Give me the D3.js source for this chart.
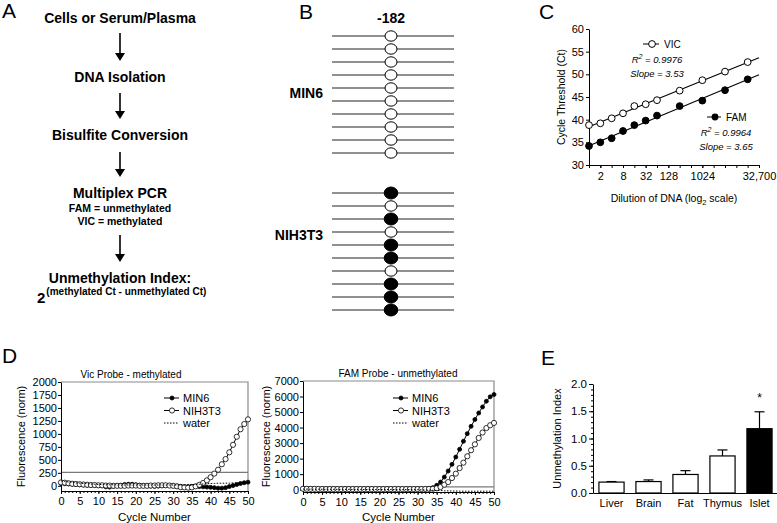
<!DOCTYPE html>
<html>
<head>
<meta charset="utf-8">
<script src="https://cdn.jsdelivr.net/npm/d3@7"></script>
<style>
body { margin: 0; background: #fff; }
svg { font-family: "Liberation Sans", Arial, Helvetica, sans-serif; }
</style>
</head>
<body>
<svg id="fig" width="777" height="523"></svg>
<script>
// ---- data ----
const flowSteps = ['Cells or Serum/Plasma', 'DNA Isolation', 'Bisulfite Conversion', 'Multiplex PCR', 'Unmethylation Index:'];
const flowNotes = ['FAM = unmethylated', 'VIC = methylated'];

const min6Sites = [0, 0, 0, 0, 0, 0, 0, 0, 0, 0];
const nih3t3Sites = [1, 0, 1, 0, 1, 1, 0, 1, 1, 1];

const dilutions = [1, 2, 4, 8, 16, 32, 64, 256, 1024, 4096, 16384];
const vicCt = [38.8, 39.2, 40.3, 41.4, 43.0, 43.4, 44.3, 46.4, 48.7, 50.6, 52.7];
const famCt = [34.2, 35.0, 35.9, 37.5, 38.8, 39.8, 40.9, 43.0, 44.2, 46.5, 48.9];
const dilutionTicks = [2, 8, 32, 128, 1024, 32768];
const dilutionTickLabels = ['2', '8', '32', '128', '1024', '32,700'];

const cycles = d3.range(0, 51);
const vicMin6 = [45,40,35,30,25,20,15,10,10,5, 5,0,-20,-25,-10,0,10,25,30,30, 20,10,5,0,-5,-10,-5,0,5,5, 0,-5,-10,-15,-15,-10,-10,-15,-20,-25, -30,-35,-45,-45,-35,-15,5,25,45,60, 70];
const vicNih = [65,60,50,40,35,30,25,20,15,15, 10,10,5,5,0,0,0,0,5,5, 5,0,0,0,5,5,10,10,10,5, 0,-10,-25,-30,-35,-30,-10,20,55,105, 165,235,310,415,515,645,790,945,1090,1190, 1280];
const vicWater = [95,85,75,65,55,50,45,40,35,30, 25,25,20,20,20,15,15,15,15,15, 15,15,15,15,15,15,15,15,15,15, 15,15,15,15,15,20,25,30,35,40, 45,45,50,50,50,50,55,55,55,55, 55];
const famMin6 = [60,55,50,50,45,45,40,40,40,40, 40,40,40,40,40,40,40,40,40,40, 40,40,40,40,40,40,40,40,40,40, 45,50,60,80,130,280,490,810,1200,1630, 2100,2600,3120,3610,4080,4520,4940,5330,5700,5980, 6130];
const famNih = [60,55,50,50,45,45,40,40,40,40, 40,40,40,40,40,40,40,40,40,40, 40,40,40,40,40,40,40,40,40,40, 40,40,45,50,60,90,170,320,490,750, 1030,1390,1740,2150,2540,2920,3330,3680,3970,4150, 4300];
const famWater = [40,35,30,30,30,25,25,25,20,20, 20,20,20,15,15,15,15,15,10,10, 10,10,10,10,5,5,5,5,0,0, 0,-10,-20,-30,-40,-50,-60,-70,-80,-85, -90,-95,-100,-100,-100,-100,-100,-100,-100,-100, -100];
const vicThreshold = 260;
const famThreshold = 180;

const tissues = ['Liver', 'Brain', 'Fat', 'Thymus', 'Islet'];
const unmethIndex = [0.20, 0.21, 0.34, 0.68, 1.18];
const unmethErr = [0.01, 0.03, 0.07, 0.11, 0.31];

// ---- helpers ----
const svg = d3.select('#fig');

function styleAxis (sel, size) {
	sel.selectAll('text').attr('font-size', size).attr('fill', '#000');
	sel.selectAll('line, path').attr('stroke', '#000').attr('stroke-width', 1);
}

function panelLetter (x, y, letter) {
	svg.append('text').attr('x', x).attr('y', y)
		.attr('font-size', 21).text(letter);
}

// ---- A: flow chart ----
panelLetter(2, 18, 'A');
const stepY = [23, 82, 140, 198, 283];
const arrowY = [[33, 61], [93, 119], [152, 177], [235, 262]];
const gA = svg.append('g');
gA.selectAll('text.step').data(flowSteps).join('text')
	.attr('class', 'step')
	.attr('x', 120).attr('y', (d, i) => stepY[i])
	.attr('text-anchor', 'middle').attr('font-size', 14).attr('font-weight', 'bold')
	.text(d => d);
gA.selectAll('text.note').data(flowNotes).join('text')
	.attr('class', 'note')
	.attr('x', 120).attr('y', (d, i) => 212 + i * 13)
	.attr('text-anchor', 'middle').attr('font-size', 10.5).attr('font-weight', 'bold')
	.text(d => d);
const arrows = gA.selectAll('g.arrow').data(arrowY).join('g').attr('class', 'arrow');
arrows.append('line')
	.attr('x1', 120).attr('x2', 120)
	.attr('y1', d => d[0]).attr('y2', d => d[1] - 6)
	.attr('stroke', '#000').attr('stroke-width', 1.6);
arrows.append('path')
	.attr('d', d => `M115,${d[1] - 8}L125,${d[1] - 8}L120,${d[1]}Z`)
	.attr('fill', '#000');
const formula = gA.append('text')
	.attr('x', 37).attr('y', 303)
	.attr('font-weight', 'bold');
formula.append('tspan').attr('font-size', 15).text('2');
formula.append('tspan').attr('font-size', 10).attr('dy', -8).attr('dx', 1)
	.text('(methylated Ct - unmethylated Ct)');

// ---- B: lollipop methylation ----
panelLetter(299, 19, 'B');
const gB = svg.append('g');
gB.append('text').attr('x', 391).attr('y', 23)
	.attr('text-anchor', 'middle').attr('font-size', 14).attr('font-weight', 'bold').text('-182');

function drawClones (sites, y0, label, labelY) {
	const y = d3.scaleLinear().domain([0, sites.length - 1]).range([y0, y0 + 13 * (sites.length - 1)]);
	const g = gB.append('g');
	g.selectAll('line').data(sites).join('line')
		.attr('x1', 332).attr('x2', 454)
		.attr('y1', (d, i) => y(i)).attr('y2', (d, i) => y(i))
		.attr('stroke', '#222').attr('stroke-width', 1.1);
	g.selectAll('ellipse').data(sites).join('ellipse')
		.attr('cx', 391).attr('cy', (d, i) => y(i))
		.attr('rx', d => d ? 6.8 : 6).attr('ry', d => d ? 6 : 5.2)
		.attr('fill', d => d ? '#000' : '#fff')
		.attr('stroke', '#000').attr('stroke-width', 1);
	g.append('text').attr('x', 323).attr('y', labelY)
		.attr('text-anchor', 'end').attr('font-size', 14).attr('font-weight', 'bold').text(label);
}
drawClones(min6Sites, 36, 'MIN6', 98);
drawClones(nih3t3Sites, 193, 'NIH3T3', 240);

// ---- C: standard curve ----
panelLetter(539, 19, 'C');
const gC = svg.append('g');
const xC = d3.scaleLog().base(2).domain([1, 32768]).range([589, 759]);
const yC = d3.scaleLinear().domain([30, 60]).range([165, 29]);

gC.append('g').attr('transform', 'translate(589,0)')
	.call(d3.axisLeft(yC).tickValues(d3.range(30, 61, 5)).tickSize(3).tickPadding(2).tickSizeOuter(0))
	.call(s => styleAxis(s, 11));
gC.append('g').attr('transform', 'translate(0,165)')
	.call(d3.axisBottom(xC).tickValues(d3.range(0, 16).map(k => 2 ** k)).tickSize(3).tickFormat('').tickSizeOuter(0))
	.call(s => styleAxis(s, 11));
gC.append('g').attr('transform', 'translate(0,165)')
	.call(d3.axisBottom(xC).tickValues(dilutionTicks).tickSize(3).tickPadding(4)
		.tickFormat((d, i) => dilutionTickLabels[i]).tickSizeOuter(0))
	.call(s => styleAxis(s, 11))
	.call(s => s.select('.domain').remove());

function fitLine (ys) {
	const xs = dilutions.map(Math.log2);
	const mx = d3.mean(xs), my = d3.mean(ys);
	const b = d3.sum(xs, (x, i) => (x - mx) * (ys[i] - my)) / d3.sum(xs, x => (x - mx) ** 2);
	return k => my + b * (k - mx);
}
[[vicCt, '#fff'], [famCt, '#000']].forEach(([ys, fill]) => {
	const f = fitLine(ys);
	gC.append('line')
		.attr('x1', xC(1)).attr('x2', xC(32768))
		.attr('y1', yC(f(0))).attr('y2', yC(f(15)))
		.attr('stroke', '#000').attr('stroke-width', 1.1);
	gC.selectAll(null).data(ys).join('circle')
		.attr('cx', (d, i) => xC(dilutions[i])).attr('cy', d => yC(d))
		.attr('r', 3.4).attr('fill', fill).attr('stroke', '#000').attr('stroke-width', 1);
});
// legends
gC.append('line').attr('x1', 643).attr('x2', 659).attr('y1', 44).attr('y2', 44).attr('stroke', '#000');
gC.append('circle').attr('cx', 652).attr('cy', 44).attr('r', 3.4).attr('fill', '#fff').attr('stroke', '#000');
gC.append('text').attr('x', 664).attr('y', 48).attr('font-size', 10).text('VIC');
gC.append('line').attr('x1', 707).attr('x2', 721).attr('y1', 117).attr('y2', 117).attr('stroke', '#000');
gC.append('circle').attr('cx', 715).attr('cy', 117).attr('r', 3.4).attr('fill', '#000');
gC.append('text').attr('x', 726).attr('y', 121).attr('font-size', 10).text('FAM');
function statText (x, y, r2, slope) {
	const t = gC.append('text').attr('x', x).attr('y', y).attr('text-anchor', 'middle')
		.attr('font-size', 9.5).attr('font-style', 'italic');
	t.append('tspan').text('R');
	t.append('tspan').attr('font-size', 7).attr('dy', -4).text('2');
	t.append('tspan').attr('dy', 4).text(` = ${r2}`);
	gC.append('text').attr('x', x).attr('y', y + 14).attr('text-anchor', 'middle')
		.attr('font-size', 9.5).attr('font-style', 'italic').text(`Slope = ${slope}`);
}
statText(657, 63, '0.9976', '3.53');
statText(726, 136, '0.9964', '3.65');
gC.append('text').attr('transform', 'translate(565,97)rotate(-90)')
	.attr('text-anchor', 'middle').attr('font-size', 10.5).text('Cycle Threshold (Ct)');
const xlab = gC.append('text').attr('x', 674).attr('y', 202)
	.attr('text-anchor', 'middle').attr('font-size', 10.5);
xlab.append('tspan').text('Dilution of DNA (log');
xlab.append('tspan').attr('font-size', 7.5).attr('dy', 3).text('2');
xlab.append('tspan').attr('dy', -3).text(' scale)');

// ---- D: amplification curves ----
panelLetter(2, 363, 'D');
function amplification (opts) {
	const { x0, x1, y0, y1, yMin, yMax, yStep, title, titleX, series, threshold, legendX, ylabX } = opts;
	const g = svg.append('g');
	const x = d3.scaleLinear().domain([0, 50]).range([x0, x1]);
	const y = d3.scaleLinear().domain([yMin, yMax]).range([y0, y1]);
	// grey frame
	g.append('path').attr('d', `M${x0},${y1}H${x1}V${y0}`)
		.attr('fill', 'none').attr('stroke', '#8a8a8a').attr('stroke-width', 1.2);
	g.append('line').attr('x1', x0).attr('x2', x1)
		.attr('y1', y(threshold)).attr('y2', y(threshold))
		.attr('stroke', '#7a7a7a').attr('stroke-width', 1.2);
	g.append('g').attr('transform', `translate(${x0},0)`)
		.call(d3.axisLeft(y).tickValues(d3.range(0, yMax + 1, yStep)).tickSize(3).tickPadding(1)
			.tickFormat(d3.format('d')).tickSizeOuter(0))
		.call(s => styleAxis(s, 11));
	g.append('g').attr('transform', `translate(0,${y0})`)
		.call(d3.axisBottom(x).tickValues(cycles).tickSize(2).tickFormat('').tickSizeOuter(0))
		.call(s => styleAxis(s, 11));
	g.append('g').attr('transform', `translate(0,${y0})`)
		.call(d3.axisBottom(x).tickValues(d3.range(0, 51, 5)).tickSize(3).tickPadding(3).tickSizeOuter(0))
		.call(s => styleAxis(s, 11))
		.call(s => s.select('.domain').remove());
	const line = d3.line().x((d, i) => x(cycles[i])).y(d => y(d));
	series.forEach(s => {
		g.append('path').attr('d', line(s.values))
			.attr('fill', 'none').attr('stroke', '#000')
			.attr('stroke-width', 1)
			.attr('stroke-dasharray', s.kind === 'water' ? '1.5,1.5' : null);
		if (s.kind === 'water') return;
		g.selectAll(null).data(s.values).join('circle')
			.attr('cx', (d, i) => x(cycles[i])).attr('cy', d => y(d))
			.attr('r', s.kind === 'open' ? 2.6 : 2)
			.attr('fill', s.kind === 'open' ? '#fff' : '#000')
			.attr('stroke', '#000').attr('stroke-width', 0.8);
	});
	g.append('text').attr('x', titleX).attr('y', y1 - 4)
		.attr('text-anchor', 'middle').attr('font-size', 10).text(title);
	g.append('text').attr('x', (x0 + x1) / 2).attr('y', 521)
		.attr('text-anchor', 'middle').attr('font-size', 11.5).text('Cycle Number');
	g.append('text').attr('transform', `translate(${ylabX},${(y0 + y1) / 2})rotate(-90)`)
		.attr('text-anchor', 'middle').attr('font-size', 11).text('Fluorescence (norm)');
	// legend
	const lg = g.append('g').attr('transform', `translate(${legendX},398)`);
	series.forEach((s, i) => {
		const row = lg.append('g').attr('transform', `translate(0,${i * 12.5})`);
		row.append('line').attr('x1', 0).attr('x2', 15)
			.attr('stroke', '#000').attr('stroke-dasharray', s.kind === 'water' ? '1.5,1.5' : null);
		if (s.kind !== 'water') {
			row.append('circle').attr('cx', 8).attr('r', s.kind === 'open' ? 2.6 : 2)
				.attr('fill', s.kind === 'open' ? '#fff' : '#000').attr('stroke', '#000').attr('stroke-width', 0.8);
		}
		row.append('text').attr('x', 19).attr('y', 4.2).attr('font-size', 11).text(s.name);
	});
}
amplification({
	x0: 61, x1: 248, y0: 491, y1: 382, yMin: -100, yMax: 2000, yStep: 250,
	title: 'Vic Probe - methylated', titleX: 131, threshold: vicThreshold, legendX: 164, ylabX: 25,
	series: [
		{ name: 'MIN6', values: vicMin6, kind: 'filled' },
		{ name: 'NIH3T3', values: vicNih, kind: 'open' },
		{ name: 'water', values: vicWater, kind: 'water' }
	]
});
amplification({
	x0: 303, x1: 494, y0: 492, y1: 381, yMin: -150, yMax: 7000, yStep: 1000,
	title: 'FAM Probe - unmethylated', titleX: 398, threshold: famThreshold, legendX: 393, ylabX: 270,
	series: [
		{ name: 'MIN6', values: famMin6, kind: 'filled' },
		{ name: 'NIH3T3', values: famNih, kind: 'open' },
		{ name: 'water', values: famWater, kind: 'water' }
	]
});

// ---- E: bar chart ----
panelLetter(541, 365, 'E');
const gE = svg.append('g');
const xE = d3.scaleBand().domain(tissues).range([593, 778]).paddingInner(0.32).paddingOuter(0.16);
const yE = d3.scaleLinear().domain([0, 2]).range([493, 384]);
gE.append('g').attr('transform', 'translate(593,0)')
	.call(d3.axisLeft(yE).tickValues(d3.range(0, 2.01, 0.1)).tickSize(2).tickFormat('').tickSizeOuter(0))
	.call(s => styleAxis(s, 11.5));
gE.append('g').attr('transform', 'translate(593,0)')
	.call(d3.axisLeft(yE).tickValues([0, 0.5, 1, 1.5, 2]).tickSize(4).tickPadding(2).tickFormat(d3.format('.1f')).tickSizeOuter(0))
	.call(s => styleAxis(s, 11.5))
	.call(s => s.select('.domain').remove());
gE.append('g').attr('transform', 'translate(0,493)')
	.call(d3.axisBottom(xE).tickSize(0).tickPadding(6).tickSizeOuter(0))
	.call(s => styleAxis(s, 11));
const bars = gE.selectAll('g.bar').data(tissues).join('g').attr('class', 'bar');
bars.append('line')
	.attr('x1', d => xE(d) + xE.bandwidth() / 2).attr('x2', d => xE(d) + xE.bandwidth() / 2)
	.attr('y1', (d, i) => yE(unmethIndex[i])).attr('y2', (d, i) => yE(unmethIndex[i] + unmethErr[i]))
	.attr('stroke', '#000').attr('stroke-width', 1.2);
bars.append('line')
	.attr('x1', d => xE(d) + xE.bandwidth() / 2 - 5).attr('x2', d => xE(d) + xE.bandwidth() / 2 + 5)
	.attr('y1', (d, i) => yE(unmethIndex[i] + unmethErr[i])).attr('y2', (d, i) => yE(unmethIndex[i] + unmethErr[i]))
	.attr('stroke', '#000').attr('stroke-width', 1.2);
bars.append('rect')
	.attr('x', d => xE(d)).attr('width', xE.bandwidth())
	.attr('y', (d, i) => yE(unmethIndex[i])).attr('height', (d, i) => yE(0) - yE(unmethIndex[i]))
	.attr('fill', d => d === 'Islet' ? '#000' : '#fff')
	.attr('stroke', '#000').attr('stroke-width', 1.2);
gE.append('text').attr('x', xE('Islet') + xE.bandwidth() / 2).attr('y', 402)
	.attr('text-anchor', 'middle').attr('font-size', 12).text('*');
gE.append('text').attr('transform', `translate(561,${(384 + 493) / 2})rotate(-90)`)
	.attr('text-anchor', 'middle').attr('font-size', 11).text('Unmethylation Index');
</script>
</body>
</html>
